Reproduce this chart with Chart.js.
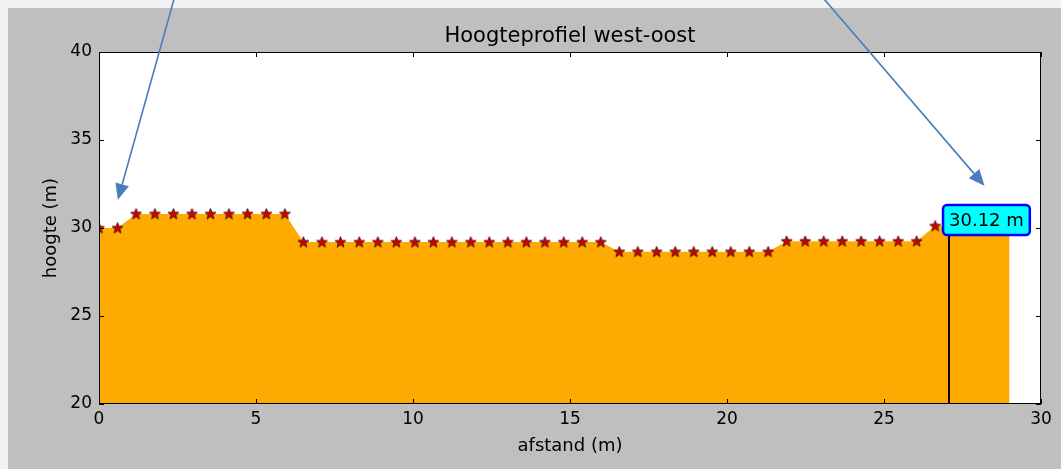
<!DOCTYPE html>
<html>
<head>
<meta charset="utf-8">
<script src="https://cdn.jsdelivr.net/npm/chart.js@4.4.1/dist/chart.umd.min.js"></script>
<style>
  html, body { margin: 0; padding: 0; background: #f2f2f2; }
  canvas { display: block; }
</style>
</head>
<body>
<canvas id="chart" width="1061" height="469"></canvas>
<script>
// distance along the profile (m)
const afstand = [0, 0.59, 1.18, 1.78, 2.37, 2.96, 3.55, 4.14, 4.73, 5.33,
  5.92, 6.51, 7.10, 7.69, 8.29, 8.88, 9.47, 10.06, 10.65, 11.24,
  11.84, 12.43, 13.02, 13.61, 14.20, 14.80, 15.39, 15.98, 16.57, 17.16,
  17.76, 18.35, 18.94, 19.53, 20.12, 20.71, 21.31, 21.90, 22.49, 23.08,
  23.67, 24.27, 24.86, 25.45, 26.04, 26.63, 27.22, 27.82, 28.41, 29.00];
// height (m)
const hoogte = [30.0, 30.0, 30.8, 30.8, 30.8, 30.8, 30.8, 30.8, 30.8, 30.8,
  30.8, 29.2, 29.2, 29.2, 29.2, 29.2, 29.2, 29.2, 29.2, 29.2,
  29.2, 29.2, 29.2, 29.2, 29.2, 29.2, 29.2, 29.2, 28.65, 28.65,
  28.65, 28.65, 28.65, 28.65, 28.65, 28.65, 28.65, 29.25, 29.25, 29.25,
  29.25, 29.25, 29.25, 29.25, 29.25, 30.12, 30.12, 30.12, 30.12, 30.12];

const xTicks = [0, 5, 10, 15, 20, 25, 30];
const yTicks = [20, 25, 30, 35, 40];

// cursor line + label
const cursorX = 27.07;
const cursorLabel = '30.12 m';
const labelAnchor = [26.88, 30.45]; // left edge / vertical centre of box

// blue arrows drawn over the figure, [fromX, fromY, toX, toY] in data units
const arrows = [
  [2.42, 43.2, 0.6, 31.6],
  [23.0, 43.2, 28.2, 32.4]
];

const FONT = 'DejaVu Sans';

// filled red star marker
function makeStar() {
  const c = document.createElement('canvas');
  c.width = 13; c.height = 13;
  const g = c.getContext('2d');
  g.beginPath();
  for (let i = 0; i < 10; i++) {
    const r = i % 2 === 0 ? 5.8 : 2.4;
    const a = -Math.PI / 2 + i * Math.PI / 5;
    const px = 6.5 + r * Math.cos(a), py = 6.8 + r * Math.sin(a);
    if (i === 0) g.moveTo(px, py); else g.lineTo(px, py);
  }
  g.closePath();
  g.fillStyle = '#d40000';
  g.fill();
  g.lineWidth = 0.8;
  g.strokeStyle = '#3a0800';
  g.stroke();
  return c;
}

const bgPlugin = {
  id: 'bg',
  beforeDraw(chart) {
    const c = chart.ctx, a = chart.chartArea;
    c.save();
    c.fillStyle = '#f2f2f2';
    c.fillRect(0, 0, chart.width, chart.height);
    c.fillStyle = '#bfbfbf';
    c.fillRect(8, 8, chart.width - 8, chart.height - 8);
    c.fillStyle = '#ffffff';
    c.fillRect(a.left, a.top, a.right - a.left, a.bottom - a.top);
    c.restore();
  }
};

const overlayPlugin = {
  id: 'overlay',
  afterDatasetsDraw(chart) {
    const c = chart.ctx, a = chart.chartArea;
    const xs = chart.scales.x, ys = chart.scales.y;
    c.save();

    // frame
    c.strokeStyle = '#000';
    c.lineWidth = 1;
    c.strokeRect(Math.round(a.left) + 0.5, Math.round(a.top) + 0.5,
      Math.round(a.right - a.left) - 1, Math.round(a.bottom - a.top) - 1);

    // inward ticks on all four sides
    c.beginPath();
    xTicks.forEach(v => {
      const px = Math.round(xs.getPixelForValue(v)) + 0.5;
      c.moveTo(px, a.bottom); c.lineTo(px, a.bottom - 5);
      c.moveTo(px, a.top); c.lineTo(px, a.top + 5);
    });
    yTicks.forEach(v => {
      const py = Math.round(ys.getPixelForValue(v)) + 0.5;
      c.moveTo(a.left, py); c.lineTo(a.left + 5, py);
      c.moveTo(a.right, py); c.lineTo(a.right - 5, py);
    });
    c.stroke();

    // cursor line
    const lx = xs.getPixelForValue(cursorX);
    c.beginPath();
    c.lineWidth = 2;
    c.moveTo(lx, ys.getPixelForValue(20));
    c.lineTo(lx, ys.getPixelForValue(labelAnchor[1]));
    c.stroke();

    // label box
    c.font = '18px "' + FONT + '"';
    const tw = c.measureText(cursorLabel).width;
    const bx = xs.getPixelForValue(labelAnchor[0]);
    const by = ys.getPixelForValue(labelAnchor[1]);
    const bw = tw + 12, bh = 30;
    c.beginPath();
    c.roundRect(bx, by - bh / 2, bw, bh, 4);
    c.fillStyle = '#00ffff';
    c.fill();
    c.lineWidth = 2.5;
    c.strokeStyle = '#0000ff';
    c.stroke();
    c.fillStyle = '#000';
    c.textBaseline = 'middle';
    c.textAlign = 'left';
    c.fillText(cursorLabel, bx + 6, by + 1);
    c.restore();
  },
  afterDraw(chart) {
    const c = chart.ctx;
    const xs = chart.scales.x, ys = chart.scales.y;
    c.save();
    c.strokeStyle = '#4a7ebb';
    c.fillStyle = '#4a7ebb';
    c.lineWidth = 1.6;
    arrows.forEach(([x0, y0, x1, y1]) => {
      const p0x = xs.getPixelForValue(x0), p0y = ys.getPixelForValue(y0);
      const p1x = xs.getPixelForValue(x1), p1y = ys.getPixelForValue(y1);
      const ang = Math.atan2(p1y - p0y, p1x - p0x);
      const len = 16, hw = 7;
      const bxp = p1x - len * Math.cos(ang), byp = p1y - len * Math.sin(ang);
      c.beginPath();
      c.moveTo(p0x, p0y);
      c.lineTo(bxp, byp);
      c.stroke();
      c.beginPath();
      c.moveTo(p1x, p1y);
      c.lineTo(bxp + hw * Math.sin(ang), byp - hw * Math.cos(ang));
      c.lineTo(bxp - hw * Math.sin(ang), byp + hw * Math.cos(ang));
      c.closePath();
      c.fill();
    });
    c.restore();
  }
};

const ctx = document.getElementById('chart').getContext('2d');
new Chart(ctx, {
  type: 'line',
  data: {
    datasets: [{
      data: afstand.map((x, i) => ({ x: x, y: hoogte[i] })),
      fill: 'start',
      backgroundColor: '#ffaa00',
      borderColor: 'rgba(0,0,0,0)',
      borderWidth: 0,
      tension: 0,
      pointStyle: makeStar(),
      pointRadius: 6,
      clip: 0
    }]
  },
  options: {
    responsive: false,
    animation: false,
    events: [],
    layout: { padding: { left: 0, right: 20, top: 0, bottom: 0 } },
    plugins: {
      legend: { display: false },
      tooltip: { enabled: false },
      title: {
        display: true,
        fullSize: false,
        text: 'Hoogteprofiel west-oost',
        color: '#000',
        font: { family: FONT, size: 21, weight: 'normal', lineHeight: 1.2 },
        padding: { top: 24, bottom: 2.8 }
      }
    },
    scales: {
      x: {
        type: 'linear',
        min: 0, max: 30,
        afterBuildTicks(s) { s.ticks = xTicks.map(v => ({ value: v })); },
        ticks: { color: '#000', padding: 5, font: { family: FONT, size: 17 } },
        grid: { display: false, drawTicks: false },
        border: { display: false },
        title: {
          display: true, text: 'afstand (m)', color: '#000',
          font: { family: FONT, size: 18 }, padding: { top: 0, bottom: 12 }
        },
        afterFit(s) { s.height = 65; }
      },
      y: {
        type: 'linear',
        min: 20, max: 40,
        afterBuildTicks(s) { s.ticks = yTicks.map(v => ({ value: v })); },
        ticks: { color: '#000', padding: 7, font: { family: FONT, size: 17 } },
        grid: { display: false, drawTicks: false },
        border: { display: false },
        title: {
          display: true, text: 'hoogte (m)', color: '#000',
          font: { family: FONT, size: 18 }, padding: { top: 41, bottom: 0 }
        },
        afterFit(s) { s.width = 99; }
      }
    }
  },
  plugins: [bgPlugin, overlayPlugin]
});
</script>
</body>
</html>
